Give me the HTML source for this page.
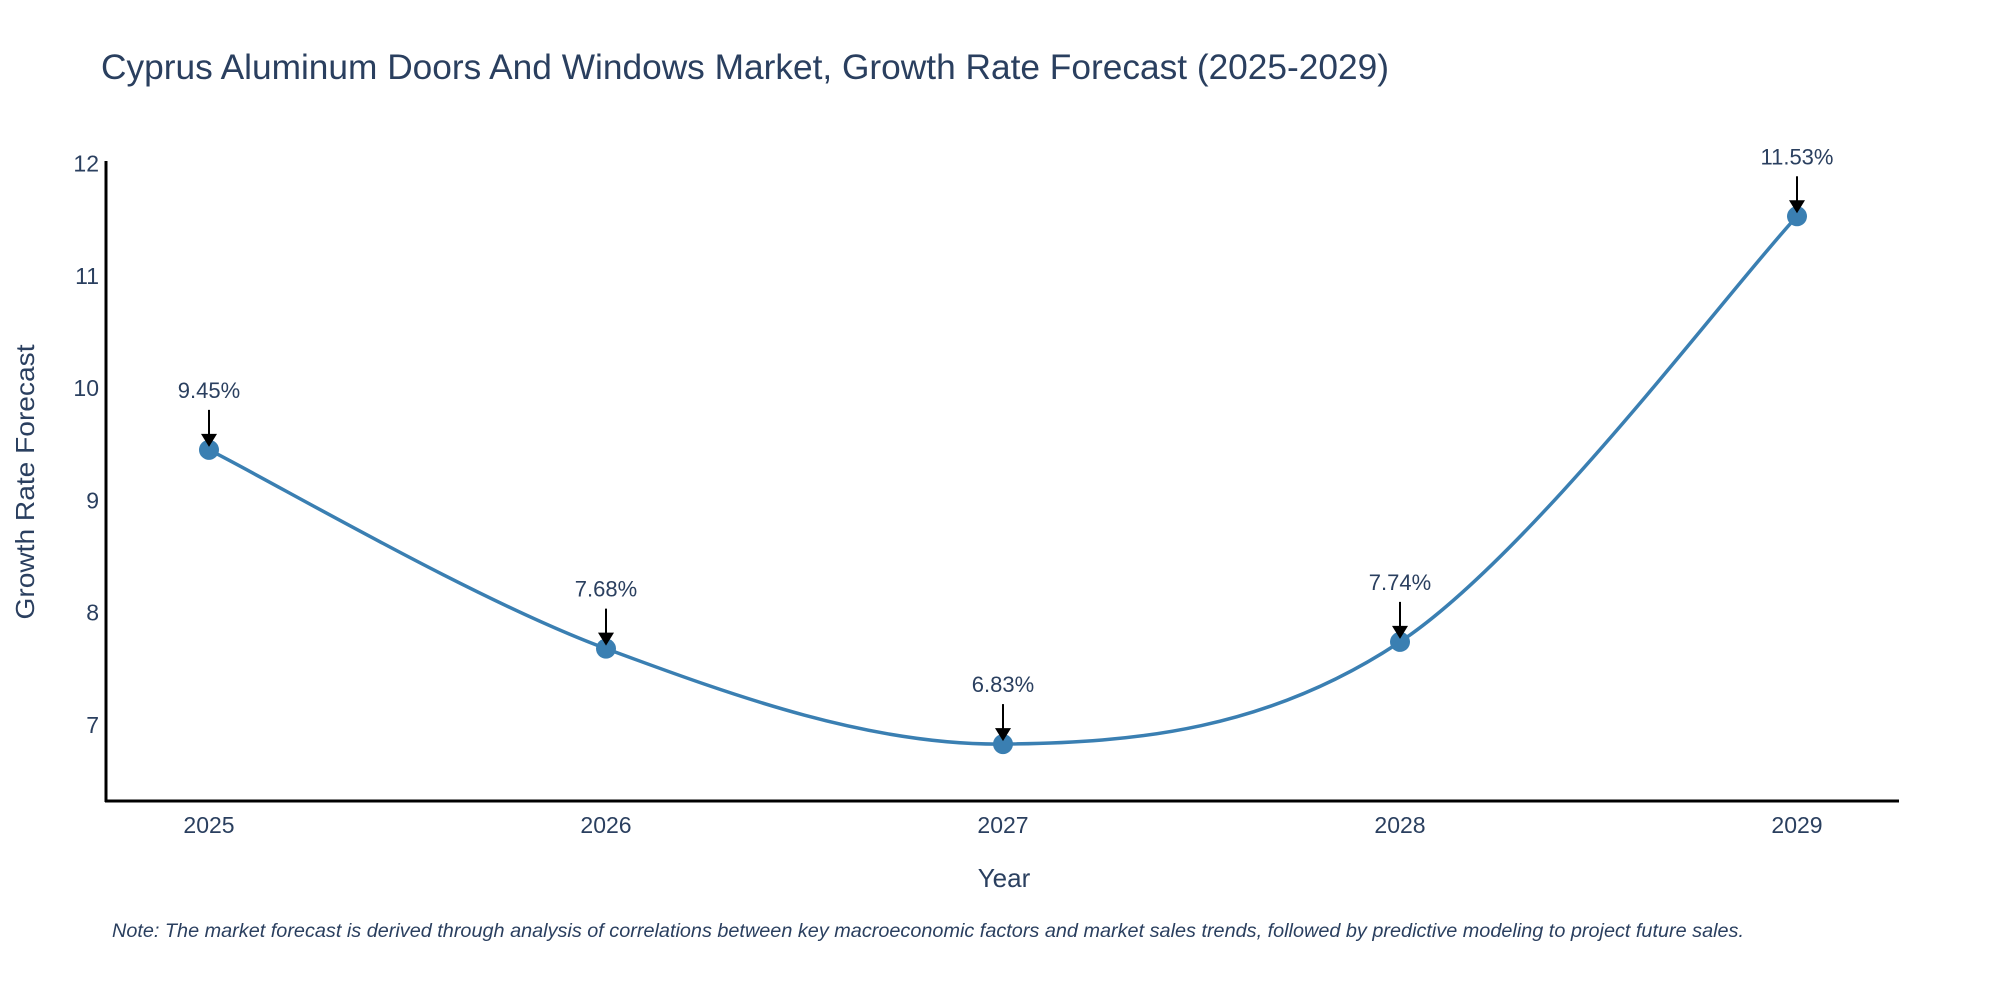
<!DOCTYPE html>
<html><head><meta charset="utf-8"><style>
body{margin:0;background:#fff}
svg text{font-family:"Liberation Sans",sans-serif}
</style></head><body>
<svg id="chart" width="2000" height="1000" xmlns="http://www.w3.org/2000/svg">
<text x="101" y="79" font-size="35" fill="#2a3f5f" textLength="1288" lengthAdjust="spacingAndGlyphs">Cyprus Aluminum Doors And Windows Market, Growth Rate Forecast (2025-2029)</text>
<g id="yticks"></g><g id="xticks"></g>
<line x1="106" y1="161" x2="106" y2="802" stroke="#000" stroke-width="3"/>
<line x1="105" y1="801" x2="1899" y2="801" stroke="#000" stroke-width="3"/>
<text transform="translate(34,482) rotate(-90)" text-anchor="middle" font-size="26" fill="#2a3f5f" textLength="275" lengthAdjust="spacingAndGlyphs">Growth Rate Forecast</text>
<text x="1004" y="887" text-anchor="middle" font-size="26" fill="#2a3f5f">Year</text>
<text x="112" y="937" font-size="19" font-style="italic" fill="#2a3f5f" textLength="1632" lengthAdjust="spacingAndGlyphs">Note: The market forecast is derived through analysis of correlations between key macroeconomic factors and market sales trends, followed by predictive modeling to project future sales.</text>
<g id="series"></g>
</svg>
<script>
const categories=["2025","2026","2027","2028","2029"];
const values=[9.45,7.68,6.83,7.74,11.53];
const labels=["9.45%","7.68%","6.83%","7.74%","11.53%"];
const yTicks=[7,8,9,10,11,12];
const NS="http://www.w3.org/2000/svg";
function xs(i){return 209+i*397;}
function ys(v){return 163.5+(12-v)*112.3;}
function mk(tag,attrs,parent){const e=document.createElementNS(NS,tag);for(const k in attrs)e.setAttribute(k,attrs[k]);parent.appendChild(e);return e;}
const yt=document.getElementById('yticks');
yTicks.forEach(t=>{const e=mk('text',{x:99,y:ys(t)+8,'text-anchor':'end','font-size':23,fill:'#2a3f5f'},yt);


e.textContent=t;});
const xt=document.getElementById('xticks');
categories.forEach((c,i)=>{const e=mk('text',{x:xs(i),y:833,'text-anchor':'middle','font-size':23,fill:'#2a3f5f'},xt);


e.textContent=c;});
const s=document.getElementById('series');
const P=values.map((v,i)=>[xs(i),ys(v)]);
let d=`M${P[0][0]},${P[0][1]}`;
for(let i=0;i<P.length-1;i++){const p0=P[Math.max(0,i-1)],p1=P[i],p2=P[i+1],p3=P[Math.min(P.length-1,i+2)];
const k=1/6;
d+=` C${p1[0]+(p2[0]-p0[0])*k},${p1[1]+(p2[1]-p0[1])*k} ${p2[0]-(p3[0]-p1[0])*k},${p2[1]-(p3[1]-p1[1])*k} ${p2[0]},${p2[1]}`;}
const line=mk('path',{d:d,fill:'none',stroke:'#3a7fb2','stroke-width':3.5},s);


P.forEach((p,i)=>{
const c=mk('circle',{cx:p[0],cy:p[1],r:10,fill:'#3a7fb2'},s);


const a=mk('line',{x1:p[0],y1:p[1]-40,x2:p[0],y2:p[1]-14,stroke:'#000','stroke-width':2},s);


const h=mk('polygon',{points:`${p[0]-8},${p[1]-16} ${p[0]+8},${p[1]-16} ${p[0]},${p[1]-3}`,fill:'#000'},s);


const t=mk('text',{x:p[0],y:p[1]-52,'text-anchor':'middle','font-size':22,fill:'#2a3f5f'},s);


t.textContent=labels[i];});
</script>
</body></html>
